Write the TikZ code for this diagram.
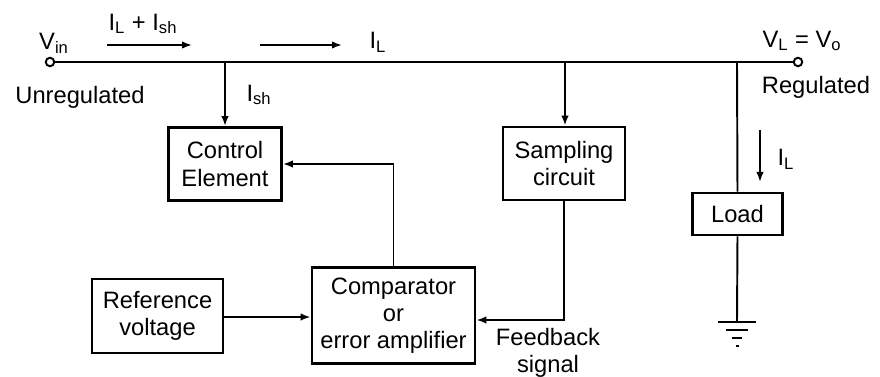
\documentclass[tikz,border=0pt]{standalone}
\usepackage{fontspec}
\setmainfont{Liberation Sans}
\usetikzlibrary{arrows.meta}

\begin{document}
\begin{tikzpicture}[x=0.02cm, y=-0.02cm, line width=1.1pt,
  every node/.style={font=\fontsize{13.5}{15.5}\selectfont, align=center},
  block/.style={draw, line width=1.6pt, inner sep=0pt},
  term/.style={draw, circle, fill=white, inner sep=0pt, minimum size=0.17cm, line width=1.1pt},
  flow/.style={-{Latex[length=2mm,width=1.5mm]}}]
  \useasboundingbox (0,0) rectangle (880,377);

  \node[term] (vin) at (50,62) {};
  \node[term] (vout) at (798,62) {};
  \node (vinlbl) at (54,43) {V\textsubscript{in}};
  \node (unreg) at (80,97) {Unregulated};
  \node (voutlbl) at (802,41) {V\textsubscript{L} = V\textsubscript{o}};
  \node (reg) at (816,87) {Regulated};

  \coordinate (jctrl) at (225,62);
  \coordinate (jsamp) at (565,62);
  \coordinate (jload) at (737,62);
  \draw (vin) -- (vout);

  \coordinate (a1s) at (107,45); \coordinate (a1e) at (192,45);
  \draw[flow] (a1s) -- (a1e);
  \node (ilish) at (143,24) {I\textsubscript{L} + I\textsubscript{sh}};
  \coordinate (a2s) at (260,45); \coordinate (a2e) at (342,45);
  \draw[flow] (a2s) -- (a2e);
  \node (il1) at (378,42) {I\textsubscript{L}};

  \node[block, minimum width=2.26cm, minimum height=1.46cm] (ctrl) at (225,164) {Control\\Element};
  \node[block, minimum width=2.44cm, minimum height=1.46cm] (samp) at (564,163.5) {Sampling\\circuit};
  \node[block, minimum width=1.8cm, minimum height=0.84cm] (load) at (737.5,214) {Load};
  \node[block, minimum width=2.62cm, minimum height=1.48cm] (ref) at (157.5,316) {Reference\\voltage};
  \node[block, minimum width=3.26cm, minimum height=1.92cm] (comp) at (393.5,315.5) {Comparator\\or\\error amplifier};

  \draw[flow] (jctrl) -- (jctrl |- ctrl.north);
  \node (ish) at (259,95) {I\textsubscript{sh}};
  \draw[flow] (jsamp) -- (jsamp |- samp.north);
  \draw (jload) -- (load.north);

  \coordinate (a3s) at (760,130); \coordinate (a3e) at (760,182);
  \draw[flow] (a3s) -- (a3e);
  \node (il2) at (786,159) {I\textsubscript{L}};

  \coordinate (gnd) at (737,322);
  \draw (load.south) -- (gnd);
  \draw (718,322) -- (756,322);
  \draw (726,330) -- (748,330);
  \draw (732,338) -- (742,338);
  \draw (735.5,346) -- (738.5,346);

  \draw[flow] (ref.east |- 0,317) -- (comp.west |- 0,317);
  \draw[flow] (comp.north) |- (ctrl.east);
  \draw[flow] (samp.south) |- (comp.east |- 0,320);
  \node (fb) at (548,353) {Feedback\\signal};
\end{tikzpicture}
\end{document}
